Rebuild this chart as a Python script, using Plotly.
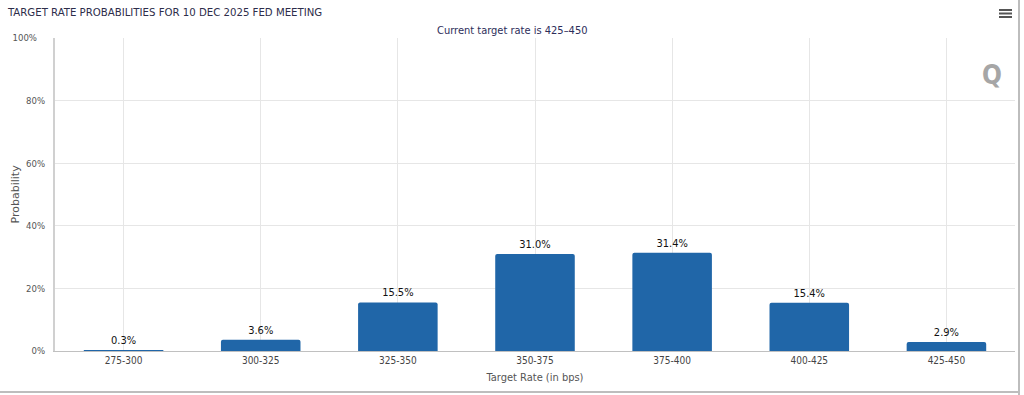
import plotly.graph_objects as go

categories = ["275-300", "300-325", "325-350", "350-375", "375-400", "400-425", "425-450"]
probabilities = [0.3, 3.6, 15.5, 31.0, 31.4, 15.4, 2.9]
y_ticks = [0, 20, 40, 60, 80, 100]
y_tick_labels = ["0%", "20%", "40%", "60%", "80%", "100%\u00a0\u00a0\u00a0"]

title_text = "TARGET RATE PROBABILITIES FOR 10 DEC 2025 FED MEETING"
subtitle_text = "Current target rate is 425–450"
x_title = "Target Rate (in bps)"
y_title = "Probability"

FONT = "DejaVu Sans Condensed, Liberation Sans Narrow, DejaVu Sans"
FONT_WIDE = "DejaVu Sans"
BAR = "#2066a8"

L, R, T, B = 55, 9, 38, 44
PW = 1024 - L - R
PH = 395 - T - B

fig = go.Figure(
    go.Bar(
        x=categories,
        y=probabilities,
        marker=dict(color=BAR, line=dict(width=0), cornerradius=2),
        text=[f"{v:.1f}%" for v in probabilities],
        textposition="outside",
        textfont=dict(family=FONT, size=11, color="#111111"),
        cliponaxis=False,
        hoverinfo="skip",
    )
)

fig.update_layout(
    width=1024,
    height=395,
    margin=dict(l=L, r=R, t=T, b=B),
    paper_bgcolor="white",
    plot_bgcolor="white",
    bargap=0.42,
    showlegend=False,
    font=dict(family=FONT, size=10, color="#555555"),
    title=dict(
        text=title_text,
        x=8 / 1024, xanchor="left", xref="container",
        y=1 - 12 / 395, yanchor="middle", yref="container",
        font=dict(family=FONT, size=11.3, color="#2d2d4a"),
    ),
)

fig.update_xaxes(
    showgrid=True,
    gridcolor="#e6e6e6",
    gridwidth=1,
    showline=True,
    linecolor="#c0c0c0",
    linewidth=1,
    ticks="",
    tickfont=dict(family=FONT, size=10, color="#444444"),
    title=dict(text=x_title, font=dict(family=FONT, size=11, color="#555555"), standoff=8),
    automargin=False,
    fixedrange=True,
)
fig.update_yaxes(
    range=[0, 100],
    tickvals=y_ticks,
    ticktext=y_tick_labels,
    showgrid=True,
    gridcolor="#e6e6e6",
    gridwidth=1,
    zeroline=False,
    showline=True,
    linecolor="#d0d0d0",
    linewidth=2,
    ticks="",
    ticklabelstandoff=6,
    tickfont=dict(family=FONT, size=9.5, color="#555555"),
    automargin=False,
    fixedrange=True,
)

# y-axis title
fig.add_annotation(
    text=y_title, xref="paper", yref="paper", x=(15 - L) / PW, y=0.5,
    xanchor="center", yanchor="middle", textangle=-90, showarrow=False,
    font=dict(family=FONT_WIDE, size=11, color="#555555"),
)
# subtitle
fig.add_annotation(
    text=subtitle_text, xref="paper", yref="paper", x=(512 - L) / PW, y=1.0, yshift=7.5,
    xanchor="center", yanchor="middle", showarrow=False,
    font=dict(family=FONT, size=11, color="#2d2d5a"),
)
# Q watermark
fig.add_annotation(
    text="<b>Q</b>", xref="paper", yref="paper", x=(992 - L) / PW, y=(351 - 75) / PH,
    xanchor="center", yanchor="middle", showarrow=False,
    font=dict(family=FONT, size=26, color="#a6a6a6"),
)

# hamburger menu icon and frame border
shapes = []
for yy in (10, 13.5, 17):
    shapes.append(dict(type="line", xref="paper", yref="paper",
                       x0=(999 - L) / PW, x1=(1012 - L) / PW,
                       y0=(351 - yy) / PH, y1=(351 - yy) / PH,
                       line=dict(color="#555555", width=2)))
shapes.append(dict(type="line", xref="paper", yref="paper",
                   x0=(1019 - L) / PW, x1=(1019 - L) / PW,
                   y0=(351 - 395) / PH, y1=(351 - 0) / PH,
                   line=dict(color="#bdbdbd", width=2)))
shapes.append(dict(type="line", xref="paper", yref="paper",
                   x0=-L / PW, x1=(1020 - L) / PW,
                   y0=(351 - 392) / PH, y1=(351 - 392) / PH,
                   line=dict(color="#bdbdbd", width=2)))
fig.update_layout(shapes=shapes)

fig.write_html(
    "out.html",
    config={"displayModeBar": False},
    post_script="document.body.style.margin='0';document.body.style.padding='0';",
)
